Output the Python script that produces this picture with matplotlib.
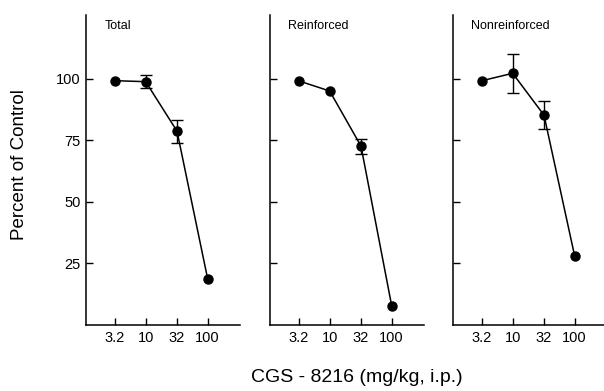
import numpy as np
import matplotlib
matplotlib.use("Agg")
import matplotlib.pyplot as plt

plt.rcParams['font.family'] = ['Liberation Sans', 'DejaVu Sans']

doses = [3.2, 10, 32, 100]
dose_labels = ["3.2", "10", "32", "100"]

titles = ["Total", "Reinforced", "Nonreinforced"]
total = [99.3, 98.9, 78.8, 18.7]
total_err = [0, 2.6, 4.7, 0]
reinforced = [99.2, 95.1, 72.7, 7.8]
reinforced_err = [0, 0, 3.0, 0]
nonreinforced = [99.3, 102.3, 85.3, 28.0]
nonreinforced_err = [0, 7.9, 5.7, 0]

series = [(total, total_err), (reinforced, reinforced_err), (nonreinforced, nonreinforced_err)]

fig = plt.figure(figsize=(6.04, 3.91), dpi=100)
lefts = [86 / 604, 270 / 604, 453 / 604]
w = 154 / 604
b = 1 - 325 / 391
h = (325 - 15) / 391

for i in range(3):
    ax = fig.add_axes([lefts[i], b, w, h])
    y, err = series[i]
    x = np.array(doses)
    y = np.array(y)
    err = np.array(err)
    has = err > 0
    # only points with an SEM get a bar
    ax.errorbar(x[has], y[has], yerr=err[has], fmt="none", ecolor="black",
                capsize=4, elinewidth=1.0, capthick=1.0)
    ax.plot(x, y, color="black", lw=1.1, marker="o", ms=6.5)
    ax.set_xscale("log")
    ax.set_xlim(1.09, 332)
    ax.set_ylim(0, 126)
    ax.set_xticks(doses)
    ax.set_xticklabels(dose_labels, fontsize=10.5)
    ax.xaxis.set_minor_locator(matplotlib.ticker.NullLocator())
    ax.set_yticks([25, 50, 75, 100])
    if i == 0:
        ax.set_yticklabels(["25", "50", "75", "100"], fontsize=10.5)
    else:
        ax.set_yticklabels([])
    ax.tick_params(direction="in", length=5, width=1, pad=4)
    ax.spines["top"].set_visible(False)
    ax.spines["right"].set_visible(False)
    ax.spines["left"].set_linewidth(1.1)
    ax.spines["bottom"].set_linewidth(1.1)
    ax.text(0.12, 0.985, titles[i], transform=ax.transAxes, fontsize=9,
            ha="left", va="top")

fig.text(20 / 604, 1 - 165 / 391, "Percent of Control", rotation=90,
         fontsize=13.5, ha="center", va="center")
fig.text(357 / 604, 1 - 378 / 391, "CGS - 8216 (mg/kg, i.p.)",
         fontsize=14, ha="center", va="center")

fig.savefig("out.png", dpi=100)
